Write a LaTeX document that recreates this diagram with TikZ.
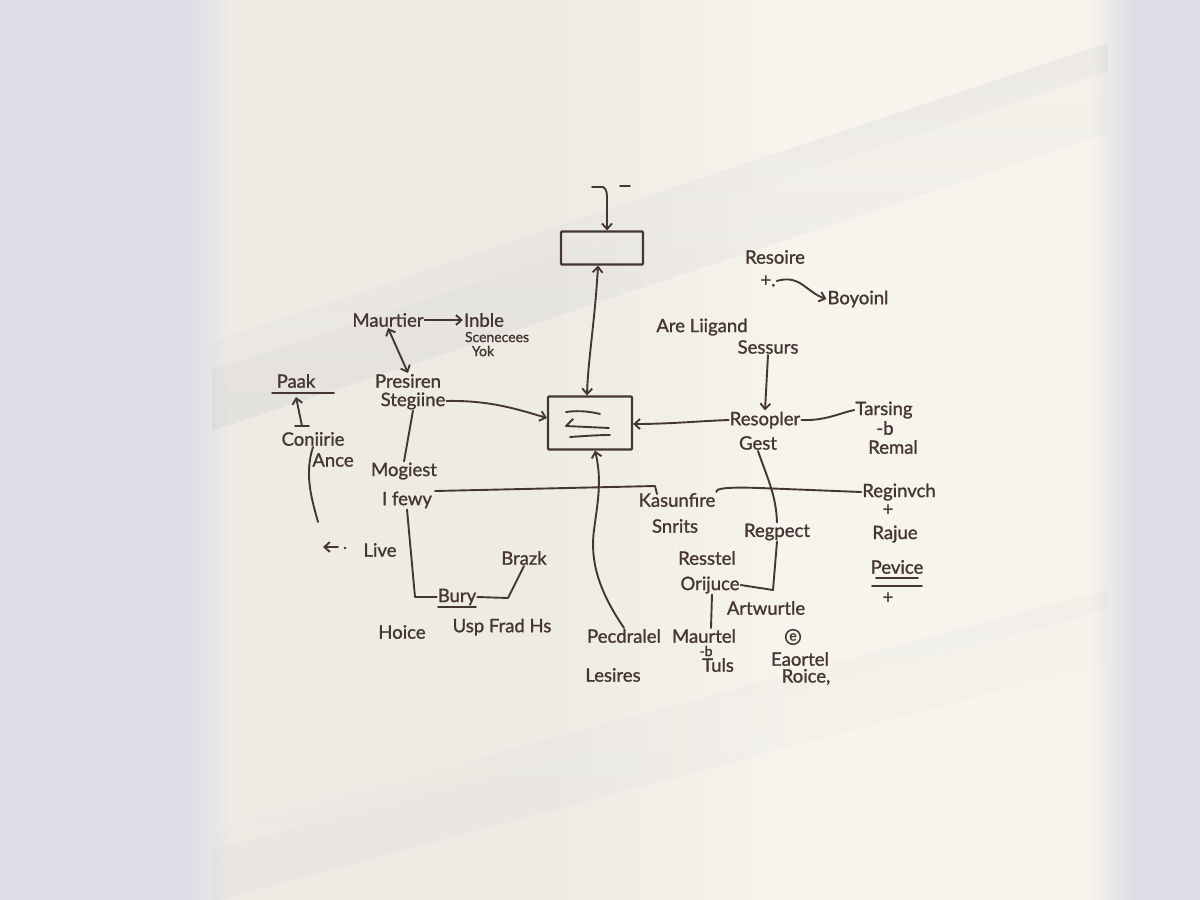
\documentclass[tikz,border=0pt]{standalone}
\usepackage{fontspec}
\setmainfont{Lato}
\newfontfamily\inkfam[FakeBold=1.2]{Lato}
\usetikzlibrary{arrows.meta,calc,fadings}
\definecolor{inkc}{RGB}{70,54,50}
\definecolor{bgA}{RGB}{220,221,230}
\definecolor{bgB}{RGB}{238,235,229}
\definecolor{bgC}{RGB}{247,244,237}
\definecolor{shd}{RGB}{160,162,180}
\pgfdeclarehorizontalshading{wallshade}{100bp}{color(0bp)=(bgA); color(25bp)=(bgA); color(32.6bp)=(bgA); color(34.6bp)=(bgB); color(48bp)=(bgB); color(58bp)=(bgC); color(70.4bp)=(bgC); color(72.2bp)=(bgA); color(100bp)=(bgA)}
\newcommand\inkfont{\inkfam\fontsize{18.5}{20}\selectfont}
\newcommand\inksmall{\inkfam\fontsize{14}{16}\selectfont}
\tikzset{
  hb/.tip={Straight Barb[length=5.5pt,width=10pt]},
  ink/.style={draw=inkc, line width=1.9pt, line cap=round, line join=round},
  lbl/.style={text=inkc, font=\inkfont, inner sep=1pt},
  lblsm/.style={text=inkc, font=\inksmall, inner sep=1pt},
  boxnode/.style={draw=inkc, line width=2.2pt, rounded corners=1pt, inner sep=0pt}
}
\begin{document}
\begin{tikzpicture}[x=1pt,y=-1pt]
\useasboundingbox (0,0) rectangle (1200,900);
\shade[shading=wallshade] (0,0) rectangle (1200,900);
% soft window shadows
\begin{scope}
\clip (212,0) rectangle (1108,900);
\begin{scope}[rotate around={18.4:(660,240)}]
\fill[shd, opacity=0.15, path fading=south] (-100,195) rectangle (1500,222);
\fill[shd, opacity=0.15, path fading=north] (-100,222) rectangle (1500,280);
\end{scope}
\begin{scope}[rotate around={15:(960,660)}]
\fill[shd, opacity=0.07, path fading=south] (0,630) rectangle (1400,650);
\fill[shd, opacity=0.07, path fading=north] (0,650) rectangle (1400,700);
\end{scope}
\end{scope}

% boxes
\node[boxnode, minimum width=82pt, minimum height=33pt] (topbox) at (602,248) {};
\node[boxnode, minimum width=84pt, minimum height=53pt] (cbox) at (590,423) {};
\draw[ink] (566,412) .. controls (580,410) and (592,412) .. (600,414);
\draw[ink] (573,419) -- (566,426) -- (609,428);
\draw[ink] (570,437) .. controls (585,436) and (598,435) .. (610,435);

% labels
\node[lbl] (maur) at (388,320) {Maurtier};
\node[lbl] (inble) at (484,320) {Inble};
\node[lblsm] (scen) at (497,337) {Scenecees};
\node[lblsm] (yok) at (483,351) {Yok};
\node[lbl] (paak) at (296,381) {Paak};
\node[lbl] (pres) at (408,381) {Presiren};
\node[lbl] (steg) at (413,401) {Stegiine};
\node[lbl] (coni) at (313,439) {Coniirie};
\node[lbl] (ance) at (333,460) {Ance};
\node[lbl] (mogi) at (404,471) {Mogiest};
\node[lbl] (ifew) at (407,500) {I fewy};
\node[lbl] (live) at (380,550) {Live};
\node[lbl] (brazk) at (524,558) {Brazk};
\node[lbl] (bury) at (457,597) {Bury};
\node[lbl] (hoice) at (402,632) {Hoice};
\node[lbl] (usp) at (502,627) {Usp Frad Hs};
\node[lbl] (pecd) at (624,636) {Pecdralel};
\node[lbl] (lesi) at (613,675) {Lesires};
\node[lbl] (maurt) at (704,636) {Maurtel};
\node[lblsm] (tb1) at (706,651) {-b};
\node[lbl] (tuls) at (718,665) {Tuls};
\node[lbl] (artw) at (766,608) {Artwurtle};
\node[lblsm, draw=inkc, line width=1.5pt, circle, inner sep=1.5pt] (ecirc) at (793,637) {e};
\node[lbl] (eaor) at (800,659) {Eaortel};
\node[lbl] (roice) at (806,677) {Roice,};
\node[lbl] (ress) at (707,558) {Resstel};
\node[lbl] (orij) at (710,585) {Orijuce};
\node[lbl] (regp) at (777,532) {Regpect};
\node[lbl] (kasu) at (677,500) {Kasunfire};
\node[lbl] (snri) at (675,526) {Snrits};
\node[lbl] (reso) at (765,420) {Resopler};
\node[lbl] (gest) at (758,443) {Gest};
\node[lbl] (areli) at (702,327) {Are Liigand};
\node[lbl] (sess) at (768,347) {Sessurs};
\node[lbl] (resoire) at (775,257) {Resoire};
\node[lbl] (plusa) at (768,281) {+.};
\node[lbl] (boyo) at (858,299) {Boyoinl};
\node[lbl] (tars) at (884,410) {Tarsing};
\node[lbl] (tb2) at (885,428) {-b};
\node[lbl] (rema) at (893,447) {Remal};
\node[lbl] (regi) at (899,492) {Reginvch};
\node[lbl] (plusb) at (888,510) {+};
\node[lbl] (raju) at (895,534) {Rajue};
\node[lbl] (pevi) at (897,567) {Pevice};
\node[lbl] (plusc) at (888,598) {+};

% underlines
\draw[ink] (272,393) -- (334,393);
\draw[ink] (438,607) -- (476,607);
\draw[ink] (872,586) -- (922,586);
\draw[ink] (876,578) -- (918,578);

% connectors
\coordinate (tstub) at (592,187);
\draw[ink,-hb] (tstub) -- (603,187) .. controls (607,189) and (607,194) .. (607,200) -- ([xshift=5pt]topbox.north);
\draw[ink] (620,186) -- (630,186);
\draw[ink,hb-hb] ([xshift=-4pt]topbox.south) .. controls (595,320) and (588,360) .. ([xshift=-3pt]cbox.north);
\draw[ink,-hb] (steg.east) .. controls (490,400) and (520,410) .. ([yshift=5pt]cbox.west);
\draw[ink,-hb] (reso.west) .. controls (700,421) and (670,424) .. ([yshift=-1pt]cbox.east);
\draw[ink,-hb] (sess.south) -- (reso.north);
\draw[ink] (reso.east) .. controls (825,421) and (840,413) .. (tars.west);
\draw[ink] (gest.south) .. controls (768,480) and (776,495) .. (regp.north);
\draw[ink] (regp.south) -- (773,590) -- (orij.east);
\draw[ink] ([xshift=2pt]orij.south) -- ([xshift=7pt]maurt.north);
\draw[ink,-hb] (pecd.north) .. controls (598,590) and (590,560) .. (594,530) .. controls (598,500) and (602,480) .. ([xshift=5pt]cbox.south);
\draw[ink] (ifew.east) ++(2,-9) -- (655,486) -- (657,494);
\draw[ink] (kasu.north east) .. controls (715,488) and (730,487) .. (760,488) -- (regi.west);
\draw[ink] (steg.south) -- (mogi.north);
\draw[ink] (ifew.south) -- (415,597) -- (bury.west);
\draw[ink] (bury.east) -- (508,598) -- (brazk.south);
\draw[ink,-hb] (maur.east) -- (inble.west);
\draw[ink,hb-hb] (maur.south) -- (pres.north);
\draw[ink,-hb] (302,426) -- (paak.south |- 0,397);
\draw[ink] (295,426) -- (309,426);
\draw[ink] (coni.south) .. controls (304,475) and (312,500) .. (318,522);
\coordinate (livetip) at (323,547);
\draw[ink,hb-] (livetip) -- (338,547);
\fill[inkc] (345,548) circle (1.4pt);
\draw[ink,-hb] (plusa.east) .. controls (800,274) and (806,292) .. (boyo.west);
\end{tikzpicture}
\end{document}
